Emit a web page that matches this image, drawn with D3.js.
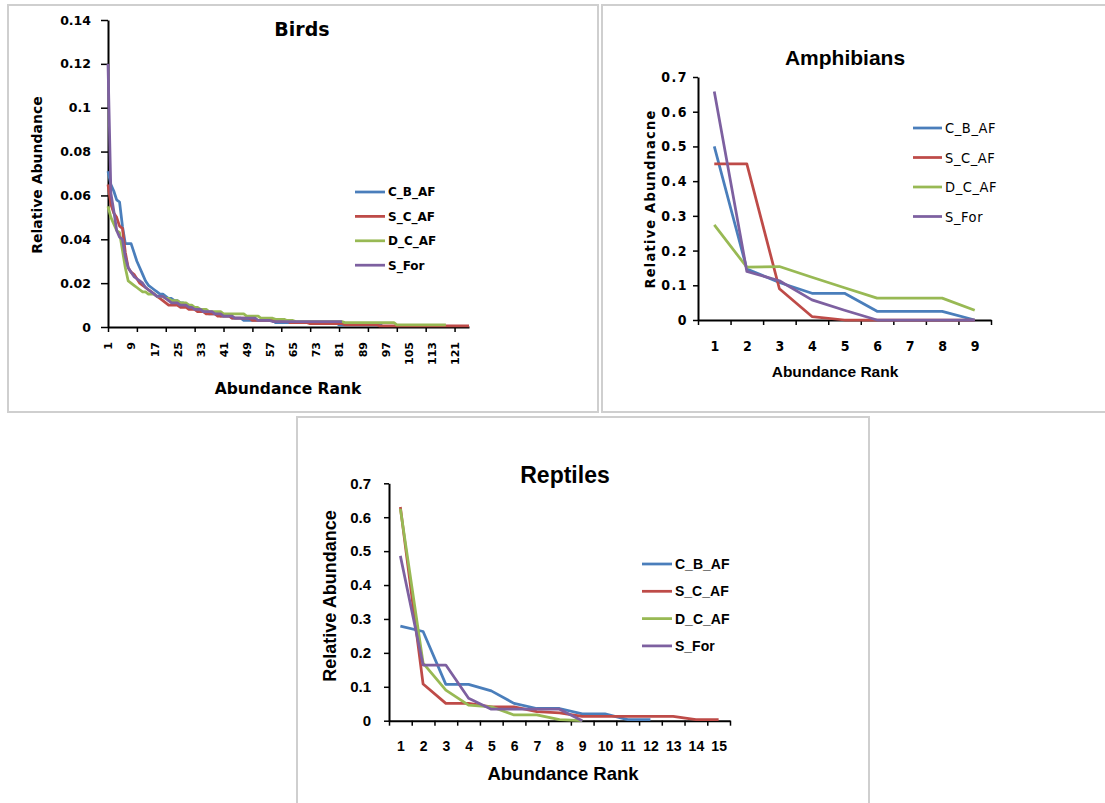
<!DOCTYPE html>
<html>
<head>
<meta charset="utf-8">
<script src="https://cdn.jsdelivr.net/npm/d3@7"></script>
<style>
  body { margin: 0; background: #fff; }
</style>
</head>
<body>
<script>
const width = 1105;
const height = 803;

const seriesNames = ["C_B_AF", "S_C_AF", "D_C_AF", "S_For"];
const colors = ["#4a7ebb", "#be4b48", "#98b954", "#7d60a0"];

// Birds: relative abundance per rank
const birdsCBAF = [0.071,0.065,0.062,0.058,0.057,0.046,0.038,0.038,0.038,0.034,
  0.030,0.027,0.024,0.021,0.019,0.018,0.017,0.016,0.015,0.015,
  0.014,0.013,0.013,0.012,0.012,0.011,0.011,0.010,0.010,0.009,
  0.009,0.008,0.007,0.007,0.007,0.006,0.006,0.006,0.006,0.005,
  0.005,0.005,0.005,0.004,0.004,0.004,0.004,0.003,0.003,0.003,
  0.003,0.003,0.003,0.003,0.003,0.003,0.003,0.003,0.002,0.002,
  0.002,0.002,0.002,0.002,0.002,0.002,0.002,0.002,0.002,0.002,
  0.002,0.002,0.002,0.002,0.002,0.002,0.002,0.002,0.002,0.002,
  0.001,0.001,0.001,0.001,0.001,0.001,0.001,0.001,0.001,0.001,
  0.001,0.001,0.001,0.001,0.001,0.001];
const birdsSCAF = [0.065,0.056,0.052,0.050,0.046,0.045,0.034,0.027,0.025,0.024,
  0.022,0.020,0.019,0.018,0.017,0.016,0.015,0.014,0.013,0.012,
  0.011,0.010,0.010,0.010,0.010,0.009,0.009,0.009,0.008,0.008,
  0.008,0.007,0.007,0.007,0.006,0.006,0.006,0.006,0.005,0.005,
  0.005,0.005,0.005,0.004,0.004,0.004,0.004,0.004,0.004,0.004,
  0.003,0.003,0.003,0.003,0.003,0.003,0.003,0.003,0.003,0.003,
  0.003,0.003,0.003,0.002,0.002,0.002,0.002,0.002,0.002,0.002,
  0.0015,0.0015,0.0015,0.0015,0.0015,0.0015,0.0015,0.0015,0.0015,0.0015,
  0.0015,0.0015,0.001,0.001,0.001,0.001,0.001,0.001,0.001,0.001,
  0.001,0.001,0.001,0.001,0.0005,0.0005,0.0005,0.0005,0.0005,0.0005,
  0.0005,0.0005,0.0005,0.0005,0.0005,0.0005,0.0005,0.0005,0.0005,0.0005,
  0.0005,0.0005,0.0005,0.0005,0.0005,0.0005,0.0005,0.0005,0.0005,0.0005,
  0.0005,0.0005,0.0005,0.0005,0.0005,0.0005];
const birdsDCAF = [0.055,0.050,0.047,0.044,0.043,0.035,0.027,0.021,0.020,0.019,
  0.018,0.017,0.016,0.016,0.015,0.015,0.015,0.014,0.014,0.014,
  0.013,0.013,0.012,0.012,0.012,0.011,0.011,0.011,0.010,0.010,
  0.009,0.009,0.008,0.008,0.008,0.007,0.007,0.007,0.007,0.007,
  0.006,0.006,0.006,0.006,0.006,0.006,0.006,0.006,0.005,0.005,
  0.005,0.005,0.005,0.004,0.004,0.004,0.004,0.004,0.0035,0.0035,
  0.0035,0.0035,0.003,0.003,0.003,0.0025,0.0025,0.0025,0.0025,0.0025,
  0.0025,0.0025,0.0025,0.0025,0.0025,0.0025,0.0025,0.0025,0.0025,0.0025,
  0.0025,0.0025,0.002,0.002,0.002,0.002,0.002,0.002,0.002,0.002,
  0.002,0.002,0.002,0.002,0.002,0.002,0.002,0.002,0.002,0.002,
  0.001,0.001,0.001,0.001,0.001,0.001,0.001,0.001,0.001,0.001,
  0.001,0.001,0.001,0.001,0.001,0.001,0.001,0.001];
const birdsSFor = [0.120,0.061,0.053,0.044,0.041,0.040,0.032,0.027,0.025,0.023,
  0.022,0.021,0.020,0.018,0.017,0.016,0.015,0.014,0.014,0.014,
  0.013,0.012,0.011,0.011,0.011,0.010,0.010,0.010,0.009,0.009,
  0.008,0.008,0.008,0.007,0.007,0.007,0.007,0.006,0.006,0.006,
  0.005,0.005,0.005,0.005,0.004,0.004,0.004,0.004,0.004,0.004,
  0.004,0.004,0.003,0.003,0.003,0.003,0.003,0.0025,0.0025,0.0025,
  0.0025,0.0025,0.0025,0.0025,0.0025,0.0025,0.0025,0.0025,0.0025,0.0025,
  0.0025,0.0025,0.0025,0.0025,0.0025,0.0025,0.0025,0.0025,0.0025,0.0025,
  0.0025,0.0025];
const birdsYTicks = [0, 0.02, 0.04, 0.06, 0.08, 0.1, 0.12, 0.14];
const birdsYLabels = ["0", "0.02", "0.04", "0.06", "0.08", "0.1", "0.12", "0.14"];
const birdsXLabels = [1, 9, 17, 25, 33, 41, 49, 57, 65, 73, 81, 89, 97, 105, 113, 121];
const birdsXMarks = [1, 11, 21, 31, 41, 51, 61, 71, 81, 91, 101, 111, 121];

// Amphibians
const amphRanks = [1, 2, 3, 4, 5, 6, 7, 8, 9];
const amphCBAF = [0.50, 0.147, 0.108, 0.077, 0.077, 0.025, 0.025, 0.025, 0];
const amphSCAF = [0.45, 0.45, 0.09, 0.01, 0, 0, 0, 0, 0];
const amphDCAF = [0.274, 0.152, 0.154, 0.123, 0.093, 0.063, 0.063, 0.063, 0.028];
const amphSFor = [0.658, 0.14, 0.113, 0.058, 0.028, 0, 0, 0, 0];

// Reptiles
const reptRanks = [1, 2, 3, 4, 5, 6, 7, 8, 9, 10, 11, 12, 13, 14, 15];
const reptCBAF = [0.279, 0.263, 0.107, 0.107, 0.088, 0.051, 0.036, 0.036, 0.02, 0.02, 0.003, 0.003];
const reptSCAF = [0.63, 0.108, 0.051, 0.051, 0.041, 0.041, 0.027, 0.023, 0.013, 0.013, 0.013, 0.013, 0.013, 0.003, 0.003];
const reptDCAF = [0.625, 0.17, 0.09, 0.046, 0.041, 0.017, 0.017, 0.003, 0];
const reptSFor = [0.486, 0.164, 0.164, 0.066, 0.034, 0.034, 0.034, 0.034, 0];

const zeroToSeven = [0, 0.1, 0.2, 0.3, 0.4, 0.5, 0.6, 0.7];
const zeroToSevenLabels = ["0", "0.1", "0.2", "0.3", "0.4", "0.5", "0.6", "0.7"];

const svg = d3.select("body")
  .append("svg")
  .attr("width", width)
  .attr("height", height);

// panel frames
svg.append("rect").attr("x", 8).attr("y", 5).attr("width", 590).attr("height", 407)
  .attr("fill", "#fff").attr("stroke", "#cfcfcf").attr("stroke-width", 2);
svg.append("rect").attr("x", 602).attr("y", 5).attr("width", 520).attr("height", 407)
  .attr("fill", "#fff").attr("stroke", "#cfcfcf").attr("stroke-width", 2);
svg.append("rect").attr("x", 297).attr("y", 417).attr("width", 572).attr("height", 400)
  .attr("fill", "#fff").attr("stroke", "#cfcfcf").attr("stroke-width", 2);

function styleAxis(g, font, size, weight) {
  g.select(".domain").attr("stroke", "#000").attr("stroke-width", 2);
  g.selectAll(".tick line").attr("stroke", "#000").attr("stroke-width", 1.5);
  g.selectAll("text")
    .attr("fill", "#000")
    .attr("font-family", font)
    .attr("font-size", size)
    .attr("font-weight", weight);
}

function drawLines(g, series, x, y) {
  series.forEach((vals, i) => {
    g.append("path")
      .datum(vals)
      .attr("fill", "none")
      .attr("stroke", colors[i])
      .attr("stroke-width", 2.75)
      .attr("stroke-linejoin", "round")
      .attr("d", d3.line().x((d, j) => x(j + 1)).y(d => y(d)));
  });
}

function drawLegend(g, x0, y0, gap, lineLen, font, size, weight, spacing) {
  seriesNames.forEach((name, i) => {
    const yy = y0 + i * gap;
    g.append("line")
      .attr("x1", x0).attr("x2", x0 + lineLen)
      .attr("y1", yy).attr("y2", yy)
      .attr("stroke", colors[i]).attr("stroke-width", 2.75);
    g.append("text")
      .attr("x", x0 + lineLen + 3).attr("y", yy).attr("dy", "0.36em")
      .attr("font-family", font).attr("font-size", size).attr("font-weight", weight)
      .attr("letter-spacing", spacing || 0)
      .text(name);
  });
}

// ---------- Birds ----------
const verd = "DejaVu Sans, Verdana, sans-serif";
const birds = svg.append("g");
const bx = d3.scaleLinear().domain([1, 126]).range([108, 469]);
const by = d3.scaleLinear().domain([0, 0.14]).range([327, 20]);

birds.append("g")
  .attr("transform", "translate(0,327)")
  .call(d3.axisBottom(bx).tickValues(birdsXMarks).tickSize(5).tickSizeOuter(0).tickFormat(""))
  .call(g => styleAxis(g, verd, 10.5, "bold"));
birds.append("g")
  .attr("transform", "translate(0,327)")
  .call(d3.axisBottom(bx).tickValues(birdsXLabels).tickSize(0).tickSizeOuter(0))
  .call(g => g.select(".domain").remove())
  .call(g => styleAxis(g, verd, 11, "bold"))
  .call(g => g.selectAll("text")
    .attr("transform", "rotate(-90)")
    .attr("text-anchor", "end")
    .attr("x", -15).attr("y", 0).attr("dy", "0.35em"));
birds.append("g")
  .attr("transform", "translate(108,0)")
  .call(d3.axisLeft(by).tickValues(birdsYTicks).tickSize(7).tickSizeOuter(0).tickPadding(10)
    .tickFormat((d, i) => birdsYLabels[i]))
  .call(g => styleAxis(g, verd, 12.5, "bold"));

drawLines(birds, [birdsCBAF, birdsSCAF, birdsDCAF, birdsSFor], bx, by);
drawLegend(birds, 355, 192, 24.4, 30, verd, 12, "bold");

birds.append("text").attr("x", 302).attr("y", 36).attr("text-anchor", "middle")
  .attr("font-family", verd).attr("font-size", 19).attr("font-weight", "bold").text("Birds");
birds.append("text").attr("x", 288).attr("y", 394).attr("text-anchor", "middle")
  .attr("font-family", verd).attr("font-size", 15.5).attr("font-weight", "bold").text("Abundance Rank");
birds.append("text").attr("transform", "translate(42,175) rotate(-90)").attr("text-anchor", "middle")
  .attr("font-family", verd).attr("font-size", 14).attr("font-weight", "bold").text("Relative Abundance");

// ---------- Amphibians ----------
const narrow = "DejaVu Sans Condensed, DejaVu Sans, sans-serif";
const arial = "Liberation Sans, Arial, sans-serif";
const amph = svg.append("g");
const ax = d3.scaleLinear().domain([0.5, 9.5]).range([698, 991]);
const ay = d3.scaleLinear().domain([0, 0.7]).range([320, 77]);

amph.append("g")
  .attr("transform", "translate(0,320)")
  .call(d3.axisBottom(ax).tickValues(amphRanks.map(r => r - 0.5).concat([9.5])).tickSize(5).tickSizeOuter(0).tickFormat(""))
  .call(g => styleAxis(g, narrow, 14, "bold"));
amph.append("g")
  .attr("transform", "translate(0,320)")
  .call(d3.axisBottom(ax).tickValues(amphRanks).tickSize(0).tickPadding(21).tickSizeOuter(0))
  .call(g => g.select(".domain").remove())
  .call(g => styleAxis(g, narrow, 14, "bold"));
amph.append("g")
  .attr("transform", "translate(698,0)")
  .call(d3.axisLeft(ay).tickValues(zeroToSeven).tickSize(5).tickSizeOuter(0).tickPadding(5)
    .tickFormat((d, i) => zeroToSevenLabels[i]))
  .call(g => styleAxis(g, narrow, 14, "bold"))
  .call(g => g.selectAll("text").attr("letter-spacing", 1.5));

drawLines(amph, [amphCBAF, amphSCAF, amphDCAF, amphSFor], ax, ay);
drawLegend(amph, 913, 128, 29.5, 29, narrow, 14.5, "normal", 0.6);

amph.append("text").attr("x", 845).attr("y", 65).attr("text-anchor", "middle")
  .attr("font-family", arial).attr("font-size", 21).attr("font-weight", "bold").text("Amphibians");
amph.append("text").attr("x", 835).attr("y", 377).attr("text-anchor", "middle")
  .attr("font-family", arial).attr("font-size", 15.5).attr("font-weight", "bold").text("Abundance Rank");
amph.append("text").attr("transform", "translate(655,199) rotate(-90)").attr("text-anchor", "middle")
  .attr("font-family", narrow).attr("font-size", 14.5).attr("font-weight", "bold")
  .attr("letter-spacing", 1.2)
  .text("Relative Abundnacne");

// ---------- Reptiles ----------
const rept = svg.append("g");
const rx = d3.scaleLinear().domain([0.5, 15.5]).range([389, 730]);
const ry = d3.scaleLinear().domain([0, 0.7]).range([720.7, 483.3]);

rept.append("g")
  .attr("transform", "translate(0,720.7)")
  .call(d3.axisBottom(rx).tickValues(reptRanks.map(r => r - 0.5).concat([15.5])).tickSize(5).tickSizeOuter(0).tickFormat(""))
  .call(g => styleAxis(g, arial, 14, "bold"));
rept.append("g")
  .attr("transform", "translate(0,720.7)")
  .call(d3.axisBottom(rx).tickValues(reptRanks).tickSize(0).tickPadding(20).tickSizeOuter(0))
  .call(g => g.select(".domain").remove())
  .call(g => styleAxis(g, arial, 14, "bold"));
rept.append("g")
  .attr("transform", "translate(389,0)")
  .call(d3.axisLeft(ry).tickValues(zeroToSeven).tickSize(5).tickSizeOuter(0).tickPadding(13)
    .tickFormat((d, i) => zeroToSevenLabels[i]))
  .call(g => styleAxis(g, arial, 15, "bold"));

drawLines(rept, [reptCBAF, reptSCAF, reptDCAF, reptSFor], rx, ry);
drawLegend(rept, 642, 564, 27.3, 30, arial, 14, "bold");

rept.append("text").attr("x", 565).attr("y", 483).attr("text-anchor", "middle")
  .attr("font-family", arial).attr("font-size", 23).attr("font-weight", "bold").text("Reptiles");
rept.append("text").attr("x", 563).attr("y", 780).attr("text-anchor", "middle")
  .attr("font-family", arial).attr("font-size", 18.5).attr("font-weight", "bold").text("Abundance Rank");
rept.append("text").attr("transform", "translate(336,596) rotate(-90)").attr("text-anchor", "middle")
  .attr("font-family", arial).attr("font-size", 18).attr("font-weight", "bold").text("Relative Abundance");
</script>
</body>
</html>
